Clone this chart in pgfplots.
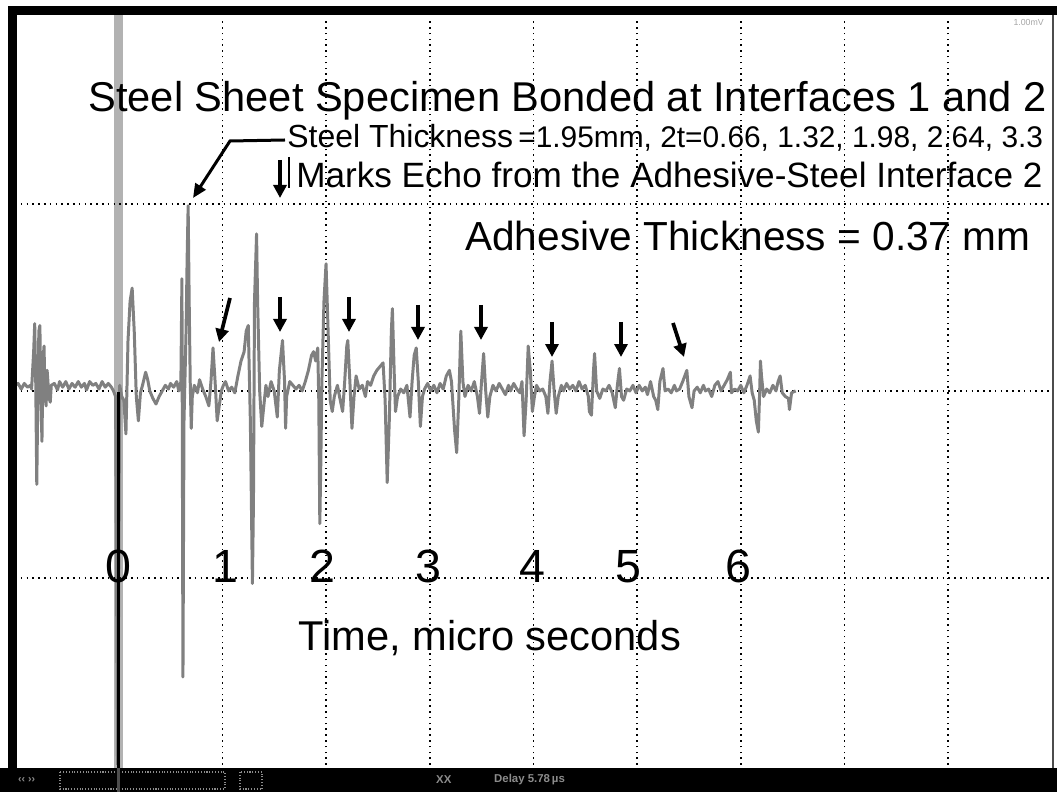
\documentclass[border=0pt]{standalone}
\usepackage{pgfplots}
\pgfplotsset{compat=1.18}
\usepackage{fontspec}
\setmainfont{Liberation Sans}
\usetikzlibrary{arrows.meta}
\pgfplotstableread{
t v
-1.00 0.03
-0.97 0.04
-0.94 0.01
-0.91 0.04
-0.88 0.02
-0.85 0.03
-0.84 0.01
-0.82 0.21
-0.81 0.36
-0.80 0.05
-0.79 -0.50
-0.78 -0.05
-0.77 0.32
-0.76 0.35
-0.75 -0.03
-0.74 -0.27
-0.73 0.16
-0.72 0.24
-0.71 -0.03
-0.70 -0.08
-0.69 0.11
-0.68 0.03
-0.67 -0.04
-0.66 -0.06
-0.65 0.03
-0.62 0.04
-0.59 0.005
-0.57 0.05
-0.54 0.02
-0.51 0.05
-0.48 0.01
-0.45 0.04
-0.42 0.02
-0.39 0.05
-0.36 0.02
-0.33 0.04
-0.31 0.005
-0.28 0.05
-0.25 0.03
-0.22 0.04
-0.19 0.01
-0.16 0.05
-0.13 0.02
-0.10 0.04
-0.07 0.02
-0.05 0.00
-0.03 -0.03
-0.01 -2.10
0.01 0.03
0.03 -0.03
0.05 -0.05
0.07 -0.23
0.09 0.27
0.11 0.48
0.13 0.55
0.15 0.32
0.17 -0.03
0.19 -0.16
0.21 -0.01
0.23 0.03
0.26 0.10
0.28 0.06
0.30 0.00
0.33 -0.04
0.36 -0.07
0.39 -0.03
0.42 0.00
0.45 0.03
0.48 0.01
0.50 0.04
0.53 0.02
0.56 0.05
0.58 0.00
0.60 0.05
0.61 0.60
0.62 -1.53
0.63 -0.16
0.65 0.32
0.66 0.70
0.67 0.99
0.68 0.48
0.69 0.05
0.70 -0.20
0.71 -0.03
0.73 0.03
0.76 -0.01
0.78 0.06
0.81 0.01
0.84 -0.03
0.87 -0.08
0.89 0.05
0.91 0.23
0.93 0.05
0.95 -0.16
0.97 -0.08
0.99 0.00
1.01 0.03
1.03 0.05
1.06 0.00
1.09 0.02
1.12 -0.01
1.15 0.08
1.18 0.16
1.21 0.21
1.23 0.32
1.25 0.35
1.27 -0.16
1.29 -1.03
1.30 -0.59
1.31 0.48
1.33 0.84
1.34 0.48
1.36 0.00
1.38 -0.19
1.40 -0.08
1.42 0.03
1.44 -0.03
1.47 0.05
1.50 0.00
1.53 -0.14
1.55 0.11
1.58 0.27
1.60 0.05
1.61 -0.20
1.62 -0.03
1.65 0.05
1.68 0.03
1.71 0.01
1.74 0.03
1.77 0.00
1.80 0.05
1.83 0.11
1.86 0.19
1.88 0.21
1.90 0.16
1.92 0.23
1.93 -0.05
1.94 -0.71
1.95 -0.37
1.96 0.05
1.98 0.48
2.00 0.68
2.02 0.32
2.04 -0.05
2.06 -0.11
2.08 -0.03
2.11 0.03
2.13 -0.03
2.16 -0.11
2.18 0.05
2.20 0.24
2.21 0.27
2.23 0.05
2.25 -0.20
2.27 -0.03
2.29 0.08
2.32 0.01
2.35 0.03
2.38 -0.03
2.40 0.05
2.43 0.03
2.46 0.08
2.49 0.11
2.52 0.13
2.55 0.15
2.57 -0.05
2.59 -0.49
2.61 -0.16
2.63 0.32
2.64 0.44
2.66 0.05
2.67 -0.11
2.69 -0.03
2.72 0.01
2.75 -0.01
2.78 0.03
2.81 -0.14
2.83 0.05
2.85 0.19
2.87 0.23
2.89 0.05
2.91 -0.19
2.93 -0.03
2.95 0.01
2.98 0.04
3.01 0.00
3.04 0.03
3.07 -0.01
3.10 0.04
3.13 0.01
3.16 0.08
3.19 0.11
3.21 0.05
3.24 -0.21
3.26 -0.33
3.28 -0.05
3.30 0.32
3.32 0.05
3.34 -0.03
3.37 0.03
3.40 0.00
3.43 0.05
3.46 -0.03
3.48 -0.12
3.50 0.05
3.52 0.20
3.54 0.00
3.56 -0.14
3.58 -0.03
3.61 0.03
3.64 0.00
3.67 0.04
3.70 0.01
3.73 -0.02
3.76 0.03
3.78 0.00
3.81 0.04
3.84 0.01
3.87 -0.01
3.89 0.05
3.91 -0.24
3.93 -0.05
3.95 0.24
3.97 0.11
3.99 -0.11
4.01 -0.03
4.03 0.03
4.06 0.00
4.09 0.01
4.12 -0.03
4.14 -0.12
4.16 0.05
4.18 0.16
4.20 0.00
4.22 -0.12
4.24 -0.03
4.27 0.03
4.29 0.00
4.32 0.04
4.35 0.01
4.38 0.03
4.41 0.00
4.44 0.05
4.47 0.01
4.50 0.03
4.53 -0.03
4.54 -0.11
4.56 -0.13
4.58 0.11
4.59 0.20
4.61 0.00
4.64 -0.04
4.67 0.01
4.70 0.00
4.73 0.03
4.76 -0.01
4.79 -0.09
4.81 0.03
4.83 0.12
4.85 -0.03
4.87 -0.05
4.90 0.01
4.93 0.00
4.96 0.03
4.99 -0.01
5.02 0.03
5.05 0.00
5.08 0.02
5.10 -0.02
5.13 0.05
5.16 -0.03
5.18 -0.05
5.20 -0.10
5.22 0.05
5.25 0.12
5.27 0.00
5.30 0.01
5.33 -0.01
5.36 0.03
5.38 0.00
5.41 0.01
5.44 0.05
5.46 0.08
5.48 0.11
5.50 -0.03
5.53 -0.09
5.55 0.00
5.58 0.02
5.61 -0.01
5.64 0.03
5.66 0.00
5.69 0.01
5.72 -0.03
5.75 0.03
5.78 0.05
5.81 0.00
5.84 0.03
5.87 0.06
5.90 0.10
5.91 -0.01
5.94 0.01
5.97 0.00
6.00 0.03
6.03 -0.01
6.06 0.03
6.09 0.08
6.11 -0.01
6.13 -0.05
6.15 -0.16
6.17 -0.22
6.18 -0.05
6.19 0.16
6.20 0.08
6.22 -0.03
6.25 0.01
6.28 -0.01
6.31 0.03
6.34 0.00
6.36 0.05
6.38 0.08
6.40 -0.01
6.43 -0.03
6.46 -0.04
6.47 -0.10
6.49 -0.01
6.53 0.00
}\wave
\begin{document}
\begin{tikzpicture}[x=0.02cm,y=-0.02cm]
% page background (1057 x 792 px)
\fill[white] (0,0) rectangle (1057,792);
% trigger marker band at t = 0
\fill[black!30] (114,14) rectangle (123,768);
\begin{axis}[
  at={(0.3cm,-15.3cm)}, anchor=south west,
  scale only axis, width=20.74cm, height=14.96cm,
  xmin=-1, xmax=9, ymin=-2, ymax=2,
  xtick={1,2,3,4,5,6,7,8}, ytick={-1,0,1},
  xticklabels={}, yticklabels={},
  major tick length=0pt,
  axis line style={draw=none},
  grid=major,
  major grid style={draw=black, line width=0.9pt, dash pattern=on 0.9pt off 2.4pt},
]
\addplot[black!50, line width=1.7pt, line join=round] table[x=t, y=v] {\wave};
\end{axis}
% dark core of the t = 0 marker below the baseline
\draw[black, line width=0.045cm] (118.5,392) -- (118.5,792);
% frame
\fill[black] (8,6) rectangle (1057,15);
\fill[black] (8,6) rectangle (17,770);
\draw[black!70, line width=0.05cm] (1053,15) -- (1053,768);
% toolbar
\fill[black] (0,768) rectangle (1057,792);
\draw[black!45, densely dotted, line width=0.6pt] (60,772) rectangle (225,789);
\draw[black!45, densely dotted, line width=0.6pt] (240,772) rectangle (262,789);
\draw[black!70, line width=0.045cm] (118.5,768) -- (118.5,792);
\node[text=black!45, font=\fontsize{6pt}{7pt}\selectfont, anchor=west] at (12,780) {\textbf{\guilsinglleft\guilsinglleft\ \guilsinglright\guilsinglright}};
\node[text=black!45, font=\fontsize{6.5pt}{7pt}\selectfont\bfseries, anchor=west] at (430,780) {XX};
\node[text=black!45, font=\fontsize{6.5pt}{7pt}\selectfont\bfseries, anchor=west] at (488,780) {Delay 5.78\,µs};
\node[text=black!35, font=\fontsize{5pt}{6pt}\selectfont, anchor=east] at (1050,22) {1.00mV};
% texts
\node[anchor=base west, inner sep=0pt, font=\fontsize{23.7pt}{28pt}\selectfont] at (88,112)
  {Steel Sheet Specimen Bonded at Interfaces 1 and 2};
\node[anchor=base west, inner sep=0pt, font=\fontsize{18.2pt}{22pt}\selectfont] at (287,148)
  {Steel Thickness};
\node[anchor=base west, inner sep=0pt, font=\fontsize{17pt}{20pt}\selectfont] at (518,148)
  {=1.95mm, 2t=0.66, 1.32, 1.98, 2.64, 3.3};
\node[anchor=base west, inner sep=0pt, font=\fontsize{20pt}{24pt}\selectfont] at (296,188)
  {Marks Echo from the Adhesive-Steel Interface 2};
\node[anchor=base west, inner sep=0pt, font=\fontsize{23.1pt}{28pt}\selectfont] at (465,251)
  {Adhesive Thickness = 0.37 mm};
\node[anchor=base west, inner sep=0pt, font=\fontsize{23.7pt}{28pt}\selectfont] at (298,650)
  {Time, micro seconds};
\foreach \px/\lab in {118/0,225/1,322/2,428/3,532/4,628/5,738/6}
  \node[anchor=base, inner sep=0pt, font=\fontsize{26.5pt}{30pt}\selectfont] at (\px,582) {\lab};
% leader line and arrows
\draw[black, line width=0.06cm, -{Triangle[length=0.28cm,width=0.24cm]}] (285,140) -- (230,141) -- (193,198);
\draw[black, line width=0.05cm] (289,157) -- (289,188);
\foreach \xa/\ya/\xb/\yb in {280/160/280/198, 230/298/219/342, 280/297/280/332, 349/297/349/332,
  418/305/418/340, 481/305/481/340, 552/322/552/357, 621/322/621/357, 673/323/684/357}
  \draw[black, line width=0.075cm, -{Triangle[length=0.26cm,width=0.26cm]}] (\xa,\ya) -- (\xb,\yb);
\end{tikzpicture}
\end{document}
